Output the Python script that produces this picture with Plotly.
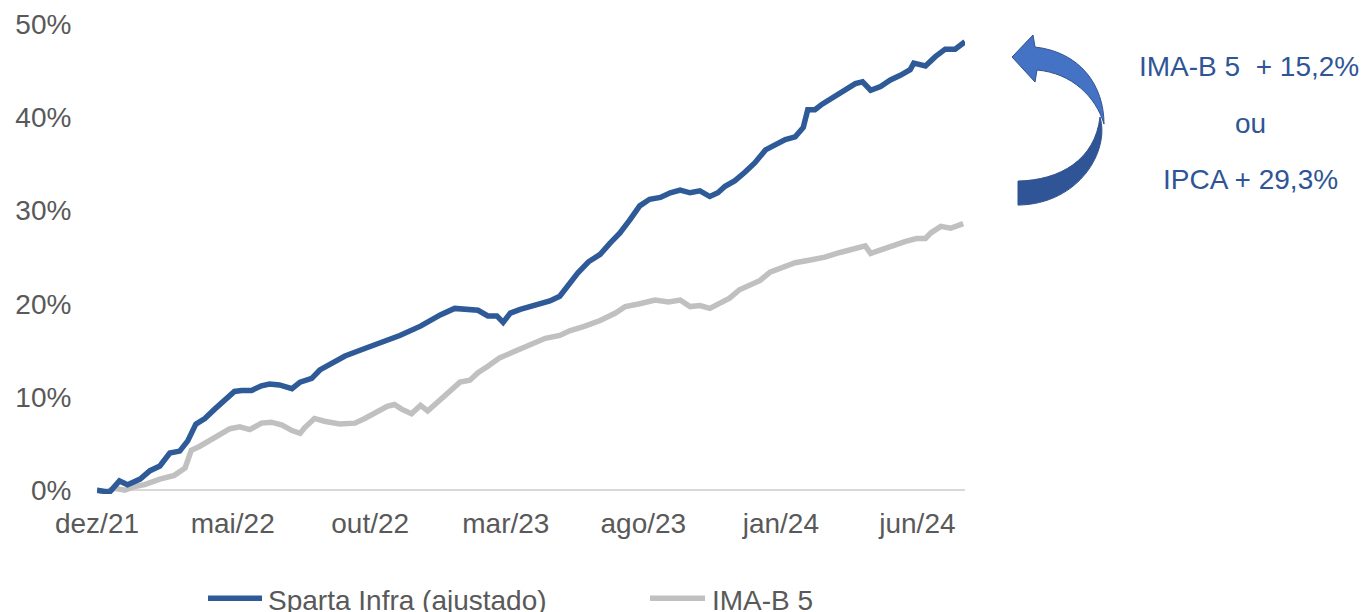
import plotly.graph_objects as go

# ---------------- data ----------------
sparta_dates = ["2021-12-01","2021-12-15","2021-12-26","2022-01-04","2022-01-18","2022-01-29","2022-02-09","2022-02-20",
    "2022-03-03","2022-03-12","2022-03-21","2022-03-31","2022-04-11","2022-04-22","2022-05-03","2022-05-11","2022-05-22",
    "2022-06-02","2022-06-11","2022-06-22","2022-07-06","2022-07-15","2022-07-28","2022-08-06","2022-08-17","2022-09-03",
    "2022-09-25","2022-10-12","2022-11-03","2022-11-26","2022-12-18","2023-01-03","2023-01-18","2023-01-29","2023-02-09",
    "2023-02-19","2023-02-26","2023-03-06","2023-03-17","2023-04-02","2023-04-19","2023-04-30","2023-05-08","2023-05-20",
    "2023-06-01","2023-06-14","2023-06-25","2023-07-06","2023-07-17","2023-07-28","2023-08-08","2023-08-20","2023-08-31",
    "2023-09-11","2023-09-22","2023-10-03","2023-10-14","2023-10-23","2023-10-31","2023-11-11","2023-11-22","2023-12-03",
    "2023-12-15","2023-12-26","2024-01-06","2024-01-17","2024-01-26","2024-01-31","2024-02-08","2024-02-16","2024-03-02",
    "2024-03-13","2024-03-24","2024-04-01","2024-04-10","2024-04-21","2024-05-02","2024-05-13","2024-05-24","2024-05-28",
    "2024-06-10","2024-06-21","2024-07-02","2024-07-13","2024-07-24"]
sparta_values = [0, -0.2, 1.0, 0.6, 1.2, 2.1, 2.6, 4.0, 4.2, 5.3, 7.1, 7.7, 8.7, 9.7, 10.6, 10.7, 10.7, 11.2, 11.4, 11.3,
    10.9, 11.6, 12.0, 12.9, 13.5, 14.4, 15.2, 15.8, 16.6, 17.6, 18.8, 19.5, 19.3, 19.3, 18.7, 18.7, 18.0, 19.0, 19.4, 19.8,
    20.3, 20.8, 21.9, 23.3, 24.5, 25.3, 26.5, 27.6, 29.0, 30.5, 31.2, 31.4, 31.9, 32.2, 31.9, 32.1, 31.5, 31.9, 32.6, 33.2,
    34.1, 35.1, 36.5, 37.0, 37.6, 37.9, 38.9, 40.8, 40.8, 41.4, 42.3, 42.9, 43.6, 43.8, 42.9, 43.3, 44.0, 44.5, 45.1, 45.8,
    45.5, 46.5, 47.3, 47.3, 48.1]

imab5_dates = ["2021-12-01","2021-12-10","2021-12-21","2022-01-01","2022-01-12","2022-01-23","2022-02-09","2022-02-25",
    "2022-03-09","2022-03-16","2022-03-25","2022-04-05","2022-04-16","2022-04-28","2022-05-09","2022-05-20","2022-06-02",
    "2022-06-13","2022-06-25","2022-07-06","2022-07-15","2022-07-20","2022-07-31","2022-08-11","2022-08-28","2022-09-14",
    "2022-09-25","2022-10-06","2022-10-20","2022-10-28","2022-11-05","2022-11-16","2022-11-26","2022-12-04","2022-12-18",
    "2022-12-29","2023-01-09","2023-01-20","2023-01-29","2023-02-09","2023-02-22","2023-03-11","2023-03-28","2023-04-14",
    "2023-04-30","2023-05-11","2023-05-28","2023-06-14","2023-07-01","2023-07-12","2023-07-28","2023-08-14","2023-08-29",
    "2023-09-11","2023-09-22","2023-10-03","2023-10-14","2023-10-25","2023-11-05","2023-11-16","2023-11-28","2023-12-09",
    "2023-12-20","2024-01-01","2024-01-17","2024-02-03","2024-02-19","2024-03-07","2024-03-24","2024-04-04","2024-04-10",
    "2024-04-21","2024-05-02","2024-05-19","2024-05-31","2024-06-10","2024-06-16","2024-06-27","2024-07-08","2024-07-22"]
imab5_values = [0, -0.2, 0.2, 0.0, 0.4, 0.6, 1.2, 1.6, 2.4, 4.3, 4.7, 5.3, 6.0, 6.6, 6.8, 6.5, 7.2, 7.3, 7.0, 6.4, 6.1,
    6.7, 7.7, 7.4, 7.1, 7.2, 7.7, 8.3, 9.0, 9.2, 8.7, 8.2, 9.1, 8.5, 9.7, 10.5, 11.6, 11.8, 12.6, 13.3, 14.2, 14.9, 15.6,
    16.3, 16.6, 17.1, 17.6, 18.2, 19.0, 19.7, 20.0, 20.4, 20.2, 20.4, 19.7, 19.8, 19.5, 20.1, 20.6, 21.5, 22.0, 22.5, 23.4,
    23.8, 24.4, 24.7, 25.0, 25.5, 26.0, 26.2, 25.4, 25.8, 26.2, 26.7, 27.0, 27.0, 27.6, 28.3, 28.1, 28.6]

series_names = ["Sparta Infra (ajustado)", "IMA-B 5"]
tick_dates = ["2021-12-01", "2022-05-01", "2022-10-01", "2023-03-01", "2023-08-01", "2024-01-01", "2024-06-01"]
tick_labels = ["dez/21", "mai/22", "out/22", "mar/23", "ago/23", "jan/24", "jun/24"]
y_ticks = [0, 10, 20, 30, 40, 50]
y_tick_labels = ["0%", "10%", "20%", "30%", "40%", "50%"]
callout_lines = ["IMA-B 5  + 15,2%", "ou", "IPCA + 29,3%"]

# ---------------- style ----------------
BLUE = "#2E5A98"
GRAY = "#C0C0C0"
TXT = "#595959"
FONT = "Liberation Sans, Arial, sans-serif"
W_FIG, H_FIG = 1368, 612
L, T = 97, 24
PW = 965 - 97
Y_MIN, Y_MAX = -0.4, 50
PH = 9.32 * (Y_MAX - Y_MIN)
B = T + PH

def P(x, y):
    return f"{(x - L) / PW:.5f},{(B - y) / PH:.5f}"

def px(x):
    return (x - L) / PW

def py(y):
    return (B - y) / PH

fig = go.Figure()
fig.add_trace(go.Scatter(x=imab5_dates, y=imab5_values, mode="lines", name=series_names[1],
                         line=dict(color=GRAY, width=5.5), showlegend=False))
fig.add_trace(go.Scatter(x=sparta_dates, y=sparta_values, mode="lines", name=series_names[0],
                         line=dict(color=BLUE, width=5.5), showlegend=False))

shapes = []
# curved arrow (decoration)
light = (f"M{P(1012,57)} L{P(1033,35)} L{P(1035,47)} C{P(1080,52)} {P(1104,85)} {P(1104,124)} "
         f"C{P(1096,97)} {P(1072,73)} {P(1037,70)} L{P(1035,82)} Z")
dark = (f"M{P(1100,117)} C{P(1110,150)} {P(1080,204)} {P(1018,205)} L{P(1018,181)} "
        f"C{P(1060,180)} {P(1095,160)} {P(1100,117)} Z")
shapes.append(dict(type="path", path=light, xref="paper", yref="paper",
                   fillcolor="#4472C4", line=dict(color="#2F528F", width=1)))
shapes.append(dict(type="path", path=dark, xref="paper", yref="paper",
                   fillcolor="#2F5597", line=dict(color="#2F528F", width=1)))

# legend (manual, to match long line samples)
legend_items = [(208, 262, 266, BLUE, series_names[0]), (650, 705, 710, GRAY, series_names[1])]
annotations = []
for x0, x1, xt, col, name in legend_items:
    shapes.append(dict(type="line", xref="paper", yref="paper", x0=px(x0), x1=px(x1), y0=py(598), y1=py(598),
                       line=dict(color=col, width=5.5)))
    annotations.append(dict(text=name, xref="paper", yref="paper", x=px(xt), y=py(600), xanchor="left",
                            yanchor="middle", showarrow=False, font=dict(family=FONT, size=28, color=TXT)))

for txt, (cx, cy) in zip(callout_lines, [(1249, 66), (1250, 123), (1250, 179)]):
    annotations.append(dict(text=txt, xref="paper", yref="paper", x=px(cx), y=py(cy), xanchor="center",
                            yanchor="middle", showarrow=False, font=dict(family=FONT, size=28, color="#2F5597")))

fig.update_layout(
    width=W_FIG, height=H_FIG,
    margin=dict(l=L, r=W_FIG - (L + PW), t=T, b=H_FIG - B, pad=0, autoexpand=False),
    paper_bgcolor="white", plot_bgcolor="white",
    font=dict(family=FONT, size=28, color=TXT),
    shapes=shapes, annotations=annotations,
    xaxis=dict(type="date", range=["2021-12-01", "2024-07-24"], tickvals=tick_dates, ticktext=tick_labels,
               showgrid=False, zeroline=False, showline=False, ticks="outside", ticklen=4,
               tickcolor="rgba(0,0,0,0)", tickfont=dict(size=28, color=TXT, family=FONT)),
    yaxis=dict(range=[Y_MIN, Y_MAX], tickvals=y_ticks, ticktext=y_tick_labels, showgrid=False,
               zeroline=True, zerolinecolor="#D9D9D9", zerolinewidth=2, showline=False,
               ticks="outside", ticklen=19, tickcolor="rgba(0,0,0,0)",
               tickfont=dict(size=28, color=TXT, family=FONT)),
    showlegend=False,
)

fig.write_html("out.html", config={"displayModeBar": False},
               post_script="document.body.style.margin='0';document.body.style.padding='0';")
